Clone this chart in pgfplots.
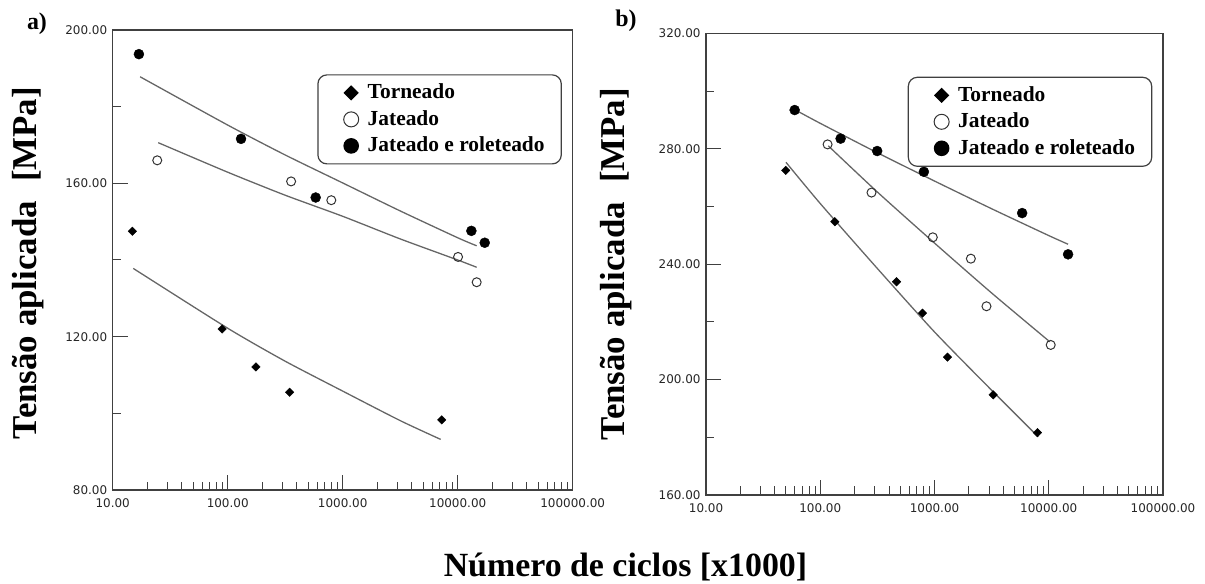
\documentclass[border=0pt]{standalone}
\usepackage{fontspec}
\setmainfont{Liberation Serif}
\newfontfamily\tickfont{DejaVu Sans}
\usepackage{pgfplots}
\pgfplotsset{compat=1.18}
\pgfplotsset{
  tor/.style={only marks, mark=square*, mark options={rotate=45, fill=black, draw=black}, mark size=3bp},
  jat/.style={only marks, mark=o, mark options={draw=black!80, line width=1bp}, mark size=4.5bp},
  rol/.style={only marks, mark=*, mark options={fill=black, draw=black}, mark size=5bp},
  torleg/.style={legend image code/.code={\path (0bp,0bp) (0bp,0bp); \draw[##1, mark size=4.8bp] plot coordinates {(16bp,0bp)};}},
  jatleg/.style={legend image code/.code={\path (0bp,0bp) (0bp,0bp); \draw[##1, mark size=7.5bp] plot coordinates {(16bp,0bp)};}},
  rolleg/.style={legend image code/.code={\path (0bp,0bp) (0bp,0bp); \draw[##1, mark size=7.2bp] plot coordinates {(16bp,0bp)};}},
  fitline/.style={no marks, smooth, tension=0.4, draw=black!60, line width=1.3bp, forget plot},
}
\begin{document}
\begin{tikzpicture}
\useasboundingbox (0bp,0bp) rectangle (1205bp,584bp);
% ---------------- panel a ----------------
\begin{axis}[scale only axis, xmode=log, xmin=10, xmax=100000,
    axis line style={draw=black!75, line width=1.2bp},
    every tick/.style={draw=black!75, line width=1bp},
    tick pos=left, tick align=inside,
    major tick length=15bp, minor tick length=8.5bp,
    xtick={10,100,1000,10000,100000},
    xticklabels={10.00,100.00,1000.00,10000.00,100000.00},
    minor xtick={20,30,40,50,60,70,80,90,200,300,400,500,600,700,800,900,2000,3000,4000,5000,6000,7000,8000,9000,20000,30000,40000,50000,60000,70000,80000,90000},
    tick label style={font=\tickfont\fontsize{12}{12}\selectfont, text=black!85},
    xticklabel style={yshift=-5bp},
    yticklabel style={xshift=-2bp},
    legend cell align=left,
    legend style={anchor=north west, draw=black!75, line width=1.2bp,
      rounded corners=9bp, inner xsep=16.7bp, inner ysep=8.25bp,
      font=\rmfamily\bfseries\fontsize{21.5}{26}\selectfont,
      nodes={inner sep=0pt, text height=15.5bp, text depth=4bp},
      row sep=7bp,
      /tikz/every odd column/.append style={column sep=9bp}},
  at={(112.7bp,94bp)}, anchor=south west,
  width=460bp, height=460bp,
  ymin=80, ymax=200,
  ytick={80,120,160,200}, yticklabels={80.00,120.00,160.00,200.00},
  minor ytick={100,140,180},
  legend style={at={(0.4448,0.9037)}}]
\addplot[fitline] coordinates {(15.1,137.8) (100,122.2) (316,113.6) (1000,105.8) (3162,98.1) (7112,93.2)};
\addplot[fitline] coordinates {(24.9,170.6) (100,162.9) (316,156.9) (1000,151.4) (3162,145.5) (10000,140.0) (14620,138.1)};
\addplot[fitline] coordinates {(17.3,187.8) (100,175.2) (316,167.4) (1000,160.1) (3162,152.8) (10000,145.8) (14620,143.7)};
\addplot[tor, torleg] coordinates {(14.8,147.5) (89.3,122.0) (176,112.1) (346,105.5) (7260,98.3)};
\addlegendentry{Torneado}
\addplot[jat, jatleg] coordinates {(24.4,166.0) (356,160.5) (796,155.6) (10070,140.8) (14620,134.2)};
\addlegendentry{Jateado}
\addplot[rol, rolleg] coordinates {(16.9,193.7) (130.6,171.6) (582,156.3) (13150,147.6) (17180,144.5)};
\addlegendentry{Jateado e roleteado}
\end{axis}
% ---------------- panel b ----------------
\begin{axis}[scale only axis, xmode=log, xmin=10, xmax=100000,
    axis line style={draw=black!75, line width=1.2bp},
    every tick/.style={draw=black!75, line width=1bp},
    tick pos=left, tick align=inside,
    major tick length=15bp, minor tick length=8.5bp,
    xtick={10,100,1000,10000,100000},
    xticklabels={10.00,100.00,1000.00,10000.00,100000.00},
    minor xtick={20,30,40,50,60,70,80,90,200,300,400,500,600,700,800,900,2000,3000,4000,5000,6000,7000,8000,9000,20000,30000,40000,50000,60000,70000,80000,90000},
    tick label style={font=\tickfont\fontsize{12}{12}\selectfont, text=black!85},
    xticklabel style={yshift=-5bp},
    yticklabel style={xshift=-2bp},
    legend cell align=left,
    legend style={anchor=north west, draw=black!75, line width=1.2bp,
      rounded corners=9bp, inner xsep=16.7bp, inner ysep=8.25bp,
      font=\rmfamily\bfseries\fontsize{21.5}{26}\selectfont,
      nodes={inner sep=0pt, text height=15.5bp, text depth=4bp},
      row sep=7bp,
      /tikz/every odd column/.append style={column sep=9bp}},
  at={(706bp,89bp)}, anchor=south west,
  width=457bp, height=461.7bp,
  ymin=160, ymax=320,
  ytick={160,200,240,280,320}, yticklabels={160.00,200.00,240.00,280.00,320.00},
  minor ytick={180,220,260,300},
  legend style={at={(0.4414,0.906)}}]
\addplot[fitline] coordinates {(50.1,275.3) (100,261.0) (316,238.5) (1000,216.5) (3162,196.3) (8070,180.2)};
\addplot[fitline] coordinates {(117.5,281.0) (316,265.0) (1000,247.3) (3162,230.0) (10210,213.1)};
\addplot[fitline] coordinates {(62.1,293.2) (100,288.8) (316,278.6) (1000,268.8) (3162,259.2) (10000,249.9) (14760,246.9)};
\addplot[tor, torleg] coordinates {(49.8,272.5) (134,254.7) (465,233.9) (785,223.0) (1300,207.8) (3260,194.7) (7960,181.6)};
\addlegendentry{Torneado}
\addplot[jat, jatleg] coordinates {(115.9,281.5) (281,264.8) (966,249.3) (2080,241.9) (2850,225.4) (10400,212.0)};
\addlegendentry{Jateado}
\addplot[rol, rolleg] coordinates {(59.7,293.4) (150.7,283.5) (315,279.2) (807,272.0) (5850,257.7) (14760,243.4)};
\addlegendentry{Jateado e roleteado}
\end{axis}
% ---------------- labels ----------------
\node[font=\rmfamily\bfseries\fontsize{24}{24}\selectfont, inner sep=0pt] at (37bp,560bp) {a)};
\node[font=\rmfamily\bfseries\fontsize{24}{24}\selectfont, inner sep=0pt] at (626bp,563bp) {b)};
\node[rotate=90, font=\rmfamily\bfseries\fontsize{35}{35}\selectfont, inner sep=0pt] at (28bp,321bp) {Tensão aplicada\hspace{0.3em} [MPa]};
\node[rotate=90, font=\rmfamily\bfseries\fontsize{35}{35}\selectfont, inner sep=0pt] at (616bp,320bp) {Tensão aplicada\hspace{0.3em} [MPa]};
\node[anchor=base, font=\rmfamily\bfseries\fontsize{34}{34}\selectfont, inner sep=0pt] at (625.5bp,7.3bp) {Número de ciclos [x1000]};
\end{tikzpicture}
\end{document}
